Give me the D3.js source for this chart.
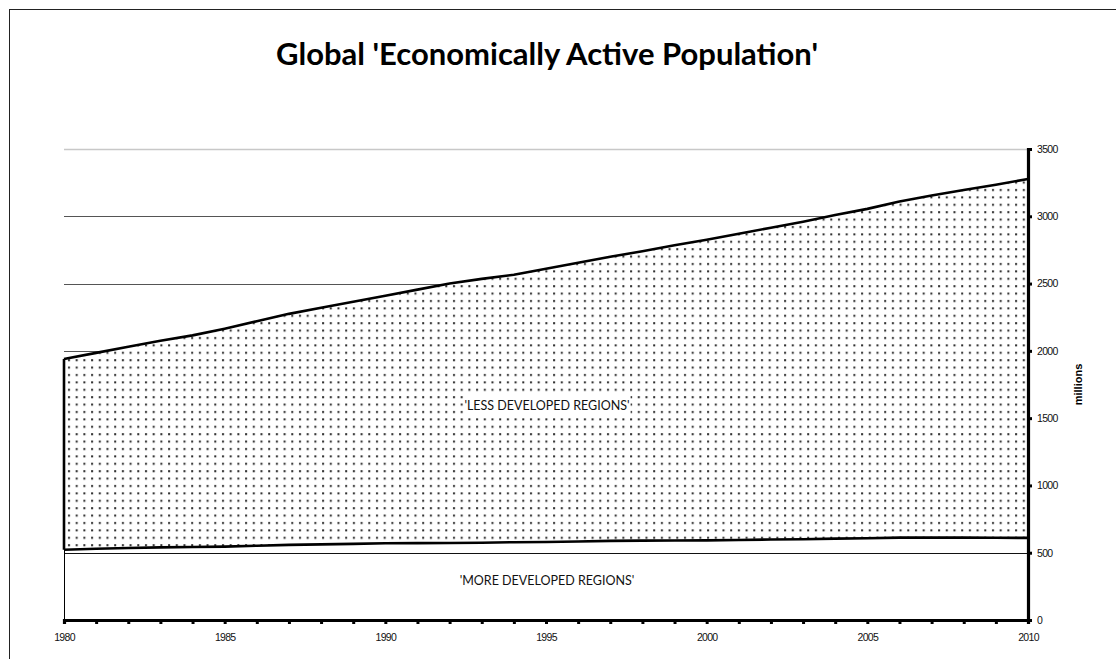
<!DOCTYPE html>
<html>
<head>
<meta charset="utf-8">
<script src="https://cdn.jsdelivr.net/npm/d3@7"></script>
<style>
  html, body { margin: 0; padding: 0; background: #fff; }
  svg { display: block; }
</style>
</head>
<body>
<svg id="chart" width="1116" height="659"></svg>
<script>
// Economically active population, millions, by year
const years = d3.range(1980, 2011);
const moreDeveloped = [
  522, 530, 535, 540, 542, 545, 552, 558, 562, 566,
  570, 571, 572, 574, 578, 580, 583, 588, 590, 591,
  592, 595, 598, 600, 605, 607, 612, 612, 612, 611,
  610
];
const lessDeveloped = [
  1418, 1455, 1495, 1535, 1573, 1620, 1668, 1717, 1758, 1799,
  1840, 1884, 1928, 1961, 1987, 2030, 2072, 2112, 2150, 2194,
  2233, 2275, 2317, 2360, 2405, 2448, 2498, 2543, 2583, 2624,
  2667
];
const yTicks = [0, 500, 1000, 1500, 2000, 2500, 3000, 3500];
const xLabelYears = [1980, 1985, 1990, 1995, 2000, 2005, 2010];

const svg = d3.select("#chart");

const plotLeft = 64, plotRight = 1028, plotTop = 149, plotBottom = 620;

const x = d3.scaleLinear().domain([1980, 2010]).range([plotLeft, plotRight]);
const y = d3.scaleLinear().domain([0, 3500]).range([plotBottom, plotTop]);

// frame
svg.append("rect")
  .attr("x", 9.5).attr("y", 9.5)
  .attr("width", 1200).attr("height", 700)
  .attr("fill", "none").attr("stroke", "#222").attr("stroke-width", 1);

// dotted fill pattern
const defs = svg.append("defs");
const pat = defs.append("pattern")
  .attr("id", "dots").attr("patternUnits", "userSpaceOnUse")
  .attr("width", 7.7).attr("height", 7.4)
  .attr("x", plotLeft + 2).attr("y", 2);
pat.append("rect").attr("width", 7.7).attr("height", 7.4).attr("fill", "#fff");
pat.append("rect").attr("x", 2).attr("y", 2).attr("width", 2).attr("height", 2).attr("fill", "#2a2a2a");

// title
svg.append("text")
  .attr("x", 547).attr("y", 65)
  .attr("text-anchor", "middle")
  .attr("font-family", "Lato, 'Open Sans', sans-serif")
  .attr("font-weight", "bold")
  .attr("font-size", 31)
  .attr("fill", "#000")
  .text("Global 'Economically Active Population'");

// gridlines
svg.append("g").selectAll("line")
  .data(yTicks.filter(d => d > 0))
  .join("line")
  .attr("x1", plotLeft).attr("x2", plotRight)
  .attr("y1", d => Math.round(y(d)) + 0.5).attr("y2", d => Math.round(y(d)) + 0.5)
  .attr("stroke", d => d === 3500 ? "#c8c8c8" : (d === 500 ? "#111" : "#555"))
  .attr("stroke-width", d => d === 3500 ? 1.5 : 1);

const rows = years.map((yr, i) => ({
  year: yr,
  more: moreDeveloped[i],
  total: moreDeveloped[i] + lessDeveloped[i]
}));

// less developed regions band
const band = d3.area()
  .x(d => x(d.year))
  .y0(d => y(d.more))
  .y1(d => y(d.total));
svg.append("path")
  .datum(rows)
  .attr("d", band)
  .attr("fill", "url(#dots)")
  .attr("stroke", "none");

// outline of the band: top line, bottom line, left edge
svg.append("path")
  .datum(rows)
  .attr("d", d3.line().x(d => x(d.year)).y(d => y(d.total)))
  .attr("fill", "none").attr("stroke", "#000").attr("stroke-width", 2.6)
  .attr("stroke-linejoin", "round");
svg.append("path")
  .datum(rows)
  .attr("d", d3.line().x(d => x(d.year)).y(d => y(d.more)))
  .attr("fill", "none").attr("stroke", "#000").attr("stroke-width", 2.6)
  .attr("stroke-linejoin", "round");
svg.append("line")
  .attr("x1", x(1980)).attr("x2", x(1980))
  .attr("y1", y(rows[0].more)).attr("y2", y(rows[0].total))
  .attr("stroke", "#000").attr("stroke-width", 2.6);

// left edge of the more developed band
svg.append("line")
  .attr("x1", x(1980) + 0.5).attr("x2", x(1980) + 0.5)
  .attr("y1", y(0)).attr("y2", y(rows[0].more))
  .attr("stroke", "#000").attr("stroke-width", 1);

// band labels
const labelFont = "Lato, 'Open Sans', sans-serif";
const lessLabel = svg.append("text")
  .attr("x", 547).attr("y", 410)
  .attr("text-anchor", "middle")
  .attr("font-family", labelFont)
  .attr("font-size", 12.5)
  .attr("fill", "#111")
  .text("'LESS DEVELOPED REGIONS'");
const bb = lessLabel.node().getBBox();
svg.insert("rect", () => lessLabel.node())
  .attr("x", bb.x - 1).attr("y", bb.y - 3)
  .attr("width", bb.width + 2).attr("height", bb.height + 5)
  .attr("fill", "#fff");

svg.append("text")
  .attr("x", 547).attr("y", 585)
  .attr("text-anchor", "middle")
  .attr("font-family", labelFont)
  .attr("font-size", 12.5)
  .attr("fill", "#111")
  .text("'MORE DEVELOPED REGIONS'");

// x axis
const xAxis = d3.axisBottom(x)
  .tickValues(years)
  .tickSize(4)
  .tickPadding(7)
  .tickFormat(d => xLabelYears.includes(d) ? d : "");
const gx = svg.append("g")
  .attr("transform", `translate(0,${plotBottom})`)
  .call(xAxis);
gx.select(".domain").attr("stroke", "#000").attr("stroke-width", 3.2);
gx.selectAll(".tick line").attr("stroke", "#000").attr("stroke-width", 3);
gx.selectAll(".tick text")
  .attr("font-family", "'Liberation Sans', Arial, sans-serif")
  .attr("font-size", 10.5)
  .attr("letter-spacing", "-0.7")
  .attr("fill", "#111")
  .attr("dy", "0.95em");

// y axis on the right
const yAxis = d3.axisRight(y)
  .tickValues(yTicks)
  .tickSize(4)
  .tickPadding(5)
  .tickFormat(d3.format("d"));
const gy = svg.append("g")
  .attr("transform", `translate(${plotRight},0)`)
  .call(yAxis);
gy.select(".domain").attr("stroke", "#000").attr("stroke-width", 3.2);
gy.selectAll(".tick line").attr("stroke", "#000").attr("stroke-width", 3);
gy.selectAll(".tick text")
  .attr("font-family", "'Liberation Sans', Arial, sans-serif")
  .attr("font-size", 10.5)
  .attr("letter-spacing", "-0.7")
  .attr("fill", "#111");

// y axis title
svg.append("text")
  .attr("transform", `translate(1082,${(plotTop + plotBottom) / 2}) rotate(-90)`)
  .attr("text-anchor", "middle")
  .attr("font-family", "'Liberation Sans', Arial, sans-serif")
  .attr("font-weight", "bold")
  .attr("font-size", 11)
  .attr("fill", "#000")
  .text("millions");
</script>
</body>
</html>
